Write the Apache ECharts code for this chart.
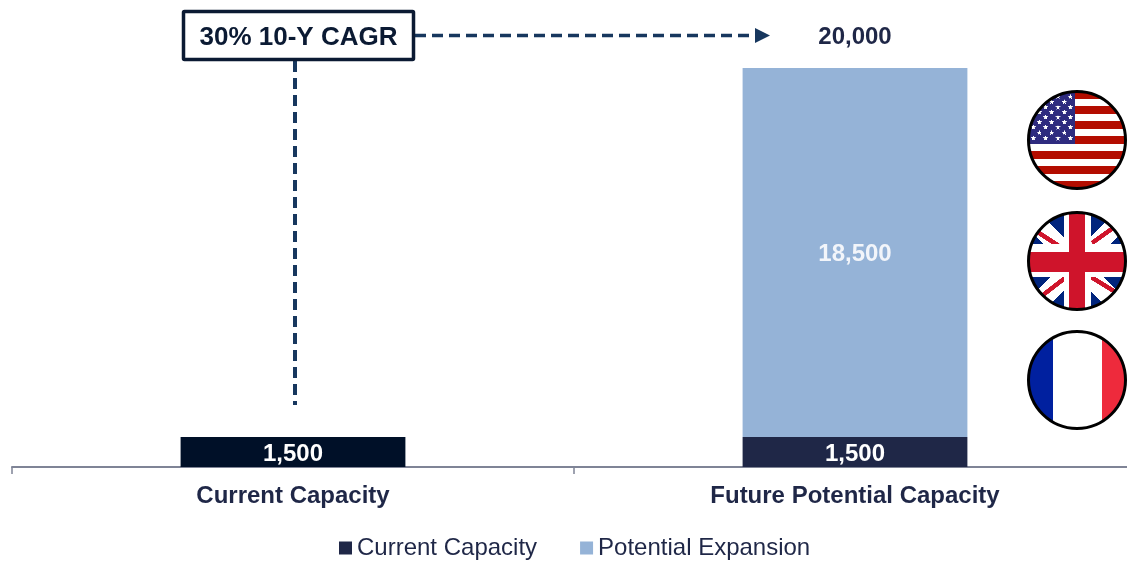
<!DOCTYPE HTML>
<html>
<head>
  <meta charset="utf-8"/>
  <title>Capacity</title>
  <style>
    html, body { margin: 0; padding: 0; background: #fff; overflow: hidden; }
    #container { width: 1127px; height: 561px; }
  </style>
  <script src="https://cdn.jsdelivr.net/npm/echarts@6/dist/echarts.min.js"></script>
</head>
<body>
  <div id="container"></div>
  <script>
    var categories = ['Current Capacity', 'Future Potential Capacity'];
    var currentValues = [1500, 1500];
    var expansionValues = [null, 18500];
    var totalValues = [null, 20000];
    var cagrText = '30% 10-Y CAGR';

    var FONT = '"Liberation Sans", Arial, sans-serif';
    var NAVY = '#1f2747';
    var DASH = '#17375e';

    function fmt(v) {
      return Number(v).toLocaleString('en-US');
    }

    // flags are painted on small canvases, clipped to a circle
    function flagCanvas(paint) {
      var s = 3, d = 100;
      var c = document.createElement('canvas');
      c.width = d * s;
      c.height = d * s;
      var g = c.getContext('2d');
      g.scale(s, s);
      g.beginPath();
      g.arc(50, 50, 49, 0, Math.PI * 2);
      g.clip();
      g.fillStyle = '#fff';
      g.fillRect(0, 0, d, d);
      paint(g);
      return c;
    }

    function star(g, x, y, r) {
      g.beginPath();
      for (var i = 0; i < 10; i++) {
        var a = -Math.PI / 2 + i * Math.PI / 5;
        var rr = i % 2 ? r * 0.42 : r;
        g.lineTo(x + Math.cos(a) * rr, y + Math.sin(a) * rr);
      }
      g.closePath();
      g.fill();
    }

    function paintUS(g) {
      g.fillStyle = '#b30d00';
      for (var i = 0; i < 7; i++) {
        g.fillRect(0, 1 + i * 15, 100, 8);
      }
      g.fillStyle = '#2e2b7f';
      g.fillRect(0, 0, 48, 54);
      g.fillStyle = '#fff';
      var rows = [48.3, 42.7, 37.3, 32.3, 27.3, 22.3, 17.3, 12, 6.7];
      for (var r = 0; r < rows.length; r++) {
        var xs = r % 2 ? [12.3, 24.7, 37.3] : [6.3, 18.7, 31, 43.3];
        for (var j = 0; j < xs.length; j++) {
          star(g, xs[j], rows[r], 2.8);
        }
      }
    }

    function paintUK(g) {
      g.fillStyle = '#00247d';
      g.fillRect(0, 0, 100, 100);
      g.strokeStyle = '#fff';
      g.lineWidth = 19;
      g.beginPath();
      g.moveTo(0, 3); g.lineTo(97, 100);
      g.moveTo(100, 3); g.lineTo(3, 100);
      g.stroke();
      g.strokeStyle = '#cf142b';
      g.lineWidth = 4.5;
      g.beginPath();
      g.moveTo(9, 20); g.lineTo(32, 35);
      g.moveTo(86, 17); g.lineTo(65, 32);
      g.moveTo(16, 84); g.lineTo(38, 67);
      g.moveTo(90, 82); g.lineTo(64, 66);
      g.stroke();
      g.fillStyle = '#fff';
      g.fillRect(37, 0, 27, 100);
      g.fillRect(0, 33, 100, 33);
      g.fillStyle = '#cf142b';
      g.fillRect(42, 0, 16, 100);
      g.fillRect(0, 41, 100, 20);
    }

    function paintFR(g) {
      g.fillStyle = '#00209f';
      g.fillRect(0, 0, 26, 100);
      g.fillStyle = '#ee2a3c';
      g.fillRect(75, 0, 25, 100);
    }

    function flag(cx, cy, paint) {
      return [
        { type: 'image', x: cx - 50, y: cy - 50,
          style: { image: flagCanvas(paint), x: 0, y: 0, width: 100, height: 100 } },
        { type: 'circle', shape: { cx: cx, cy: cy, r: 48.5 },
          style: { fill: 'none', stroke: '#000', lineWidth: 3 } }
      ];
    }

    var graphics = [
      { type: 'line', shape: { x1: 295, y1: 61, x2: 295, y2: 405 },
        style: { stroke: DASH, lineWidth: 4, lineDash: [11, 6] } },
      { type: 'line', shape: { x1: 415, y1: 35.5, x2: 757, y2: 35.5 },
        style: { stroke: DASH, lineWidth: 3.5, lineDash: [11, 6] } },
      { type: 'polygon', shape: { points: [[755, 28], [770, 35.5], [755, 43]] },
        style: { fill: DASH } },
      { type: 'rect', shape: { x: 183.5, y: 11.5, width: 230, height: 48, r: 1 },
        style: { fill: '#fff', stroke: '#0b1a33', lineWidth: 3.5 } },
      { type: 'text', x: 298.5, y: 37.5,
        style: { text: cagrText, fill: '#0b1a33', font: 'bold 26px ' + FONT,
                 align: 'center', verticalAlign: 'middle' } }
    ].concat(flag(1077, 140, paintUS), flag(1077, 261, paintUK), flag(1077, 380, paintFR));

    var chart = echarts.init(document.getElementById('container'));
    chart.setOption({
      animation: false,
      textStyle: { fontFamily: FONT },
      legend: {
        data: ['Current Capacity', 'Potential Expansion'],
        left: 339,
        top: 536,
        padding: 0,
        icon: 'rect',
        itemWidth: 13,
        itemHeight: 13,
        itemGap: 43,
        textStyle: { color: NAVY, fontSize: 24, fontFamily: FONT }
      },
      // axis runs past the right edge of the page, as in the source slide
      grid: { left: 12, width: 1124, top: 68, height: 399, outerBoundsMode: 'none' },
      xAxis: {
        type: 'category',
        data: categories,
        axisLine: { lineStyle: { color: '#7f8496', width: 2 } },
        axisTick: { show: true, length: 7, lineStyle: { color: '#7f8496', width: 1.5 } },
        axisLabel: { color: NAVY, fontSize: 24, fontWeight: 'bold', margin: 17, fontFamily: FONT }
      },
      yAxis: { type: 'value', min: 0, max: 20000, show: false },
      series: [
        {
          name: 'Current Capacity',
          type: 'bar',
          stack: 'capacity',
          barWidth: '40%',
          data: [
            { value: currentValues[0], itemStyle: { color: '#001028' } },
            { value: currentValues[1], itemStyle: { color: NAVY } }
          ],
          itemStyle: { color: NAVY },
          label: { show: true, position: 'inside', offset: [0, 2], color: '#fff', fontSize: 24, fontWeight: 'bold',
                   formatter: function (p) { return fmt(p.value); } }
        },
        {
          name: 'Potential Expansion',
          type: 'bar',
          stack: 'capacity',
          data: expansionValues,
          itemStyle: { color: '#95b3d7' },
          label: { show: true, position: 'inside', offset: [0, 2], color: '#f2f5fa', fontSize: 24, fontWeight: 'bold',
                   formatter: function (p) { return p.value == null ? '' : fmt(p.value); } }
        },
        {
          name: 'Total',
          type: 'scatter',
          data: totalValues,
          symbolSize: 0,
          itemStyle: { opacity: 1 },
          label: { show: true, position: 'top', distance: 19, color: NAVY, fontSize: 24, fontWeight: 'bold',
                   formatter: function (p) { return fmt(p.value); } }
        }
      ],
      graphic: { elements: graphics }
    });
  </script>
</body>
</html>
